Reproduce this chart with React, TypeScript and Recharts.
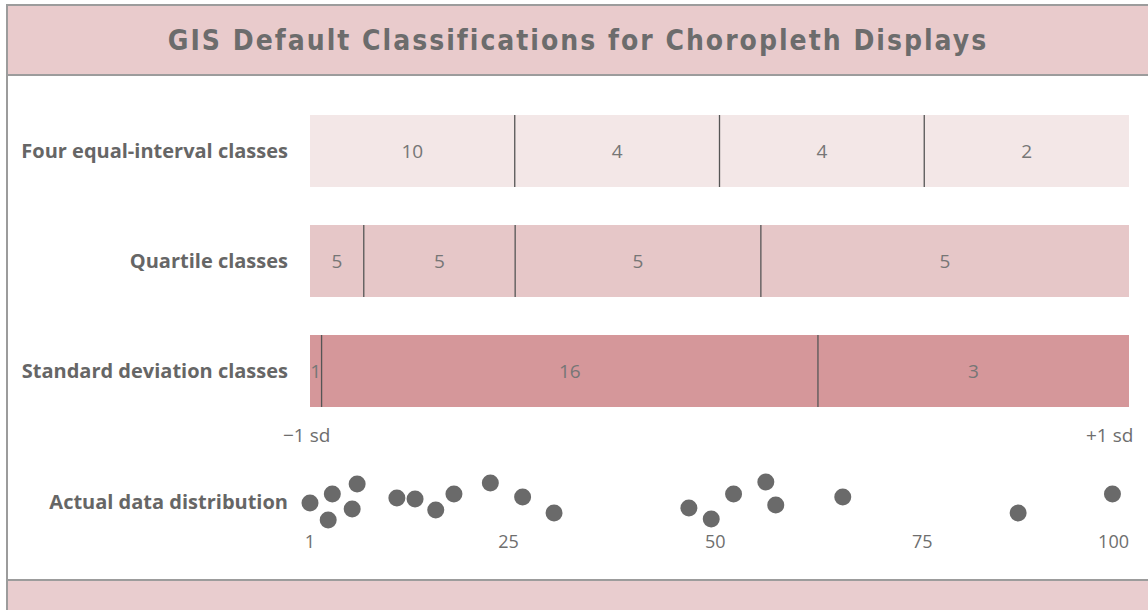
import {
  BarChart,
  Bar,
  XAxis,
  YAxis,
  LabelList,
  ScatterChart,
  Scatter
} from "recharts"

const rowLabels = [
  "Four equal-interval classes",
  "Quartile classes",
  "Standard deviation classes"
]

const dataMin = 1
const dataMax = 100

// upper bound of each class, and how many values fall into it
const equalBreaks = [25.75, 50.5, 75.25, 100]
const equalCounts = [10, 4, 4, 2]
const quartileBreaks = [7.5, 25.8, 55.5, 100]
const quartileCounts = [5, 5, 5, 5]
const sdBreaks = [2.4, 62.4, 100]
const sdCounts = [1, 16, 3]

const rowFills = ["#f3e7e7", "#e6c7c8", "#d5979a"]

// the 20 observations and a vertical jitter so they don't overlap
const dotValues = [
  1, 3.2, 3.7, 6.1, 6.7, 11.5, 13.7, 16.2, 18.4, 22.8,
  26.7, 30.5, 46.8, 49.5, 52.2, 56.1, 57.3, 65.4, 86.6, 98
]
const dotJitter = [
  27, 10, 36, 21, 46, 32, 31, 20, 36, 47,
  33, 17, 22, 11, 36, 48, 25, 33, 17, 36
]

const axisTicks = [1, 25, 50, 75, 100]

function rowEntry(label: string, breaks: number[], counts: number[]) {
  const entry: any = { row: label, base: dataMin }
  let prev = dataMin
  breaks.forEach((b, i) => {
    entry["s" + i] = b - prev
    entry["c" + i] = counts[i]
    prev = b
  })
  return entry
}

const barData = [
  rowEntry(rowLabels[0], equalBreaks, equalCounts),
  rowEntry(rowLabels[1], quartileBreaks, quartileCounts),
  rowEntry(rowLabels[2], sdBreaks, sdCounts)
]

const dotData = dotValues.map((v, i) => ({ v, j: dotJitter[i] }))

const labelFont = "'Open Sans', 'DejaVu Sans', sans-serif"

const Segment = (props: any) => {
  const { x, y, width, height, index, divider } = props
  if (!width || width <= 0) return null
  return (
    <g>
      <rect x={x} y={y} width={width} height={height} fill={rowFills[index]} />
      {divider && (
        <line x1={x} x2={x} y1={y} y2={y + height} stroke="#555" strokeWidth={1.3} />
      )}
    </g>
  )
}

const Dot = (props: any) => (
  <circle cx={props.cx} cy={props.cy} r={8.5} fill="#6a6a6a" />
)

const BottomTick = (props: any) => {
  const { x, y, payload } = props
  let anchor = "middle"
  if (payload.value === dataMax) anchor = "end"
  return (
    <text
      x={x}
      y={y}
      dy="0.71em"
      textAnchor={anchor}
      fill="#6e6e6e"
      fontSize={18}
      fontFamily={labelFont}
    >
      {payload.value}
    </text>
  )
}

const rowTick = {
  fill: "#666",
  fontSize: 20,
  fontWeight: 700,
  fontFamily: labelFont
}

const segmentKeys = ["s0", "s1", "s2", "s3"]

export default function App() {
  return (
    <div
      style={{
        position: "absolute",
        left: 0,
        top: 0,
        width: 1148,
        height: 610,
        background: "#fff",
        overflow: "hidden"
      }}
    >
      {/* frame + title band */}
      <div
        style={{
          position: "absolute",
          left: 6,
          top: 4,
          width: 1150,
          height: 68,
          background: "#e9cbcc",
          borderTop: "2px solid #9c9c9c",
          borderLeft: "2px solid #9c9c9c",
          borderBottom: "2px solid #9c9c9c",
          display: "flex",
          alignItems: "center",
          justifyContent: "center"
        }}
      >
        <span
          style={{
            fontFamily: "'DejaVu Sans Condensed', 'DejaVu Sans', sans-serif",
            fontStretch: "condensed",
            fontWeight: 700,
            fontSize: 28,
            letterSpacing: 2,
            color: "#6c6c6c",
            marginLeft: -10
          }}
        >
          GIS Default Classifications for Choropleth Displays
        </span>
      </div>
      <div
        style={{
          position: "absolute",
          left: 6,
          top: 74,
          width: 2,
          height: 506,
          background: "#9c9c9c"
        }}
      />
      <div
        style={{
          position: "absolute",
          left: 6,
          top: 579,
          width: 1150,
          height: 40,
          background: "#e9cdcf",
          borderTop: "2px solid #9c9c9c",
          borderLeft: "2px solid #9c9c9c"
        }}
      />

      <div style={{ position: "absolute", left: 0, top: 0 }}>
        <BarChart
          width={1148}
          height={430}
          data={barData}
          layout="vertical"
          margin={{ top: 96, right: 19, bottom: 4, left: 0 }}
        >
          <XAxis
            type="number"
            domain={[dataMin, dataMax]}
            allowDataOverflow
            hide
          />
          <YAxis
            type="category"
            dataKey="row"
            width={310}
            axisLine={false}
            tickLine={false}
            tickMargin={16}
            tick={rowTick}
          />
          <Bar
            dataKey="base"
            stackId="a"
            fill="transparent"
            barSize={72}
            isAnimationActive={false}
          />
          {segmentKeys.map((k, i) => (
            <Bar
              key={k}
              dataKey={k}
              stackId="a"
              barSize={72}
              isAnimationActive={false}
              shape={(p: any) => <Segment {...p} divider={i > 0} />}
            >
              <LabelList
                dataKey={"c" + i}
                position="center"
                fill="#767676"
                fontSize={19}
                fontFamily={labelFont}
              />
            </Bar>
          ))}
        </BarChart>
      </div>

      <div
        style={{
          position: "absolute",
          left: 283,
          top: 422,
          fontFamily: labelFont,
          fontSize: 19,
          color: "#6e6e6e"
        }}
      >
        −1 sd
      </div>
      <div
        style={{
          position: "absolute",
          left: 1086,
          top: 422,
          fontFamily: labelFont,
          fontSize: 19,
          color: "#6e6e6e"
        }}
      >
        +1 sd
      </div>

      <div style={{ position: "absolute", left: 0, top: 0 }}>
        <ScatterChart
          width={1148}
          height={580}
          margin={{ top: 470, right: 19, bottom: 20, left: 0 }}
        >
          <XAxis
            type="number"
            dataKey="v"
            domain={[dataMin, dataMax]}
            ticks={axisTicks}
            axisLine={false}
            tickLine={false}
            tickSize={0}
            tickMargin={5}
            tick={<BottomTick />}
          />
          <YAxis
            type="number"
            dataKey="j"
            domain={[0, 60]}
            ticks={[28]}
            width={310}
            axisLine={false}
            tickLine={false}
            tickMargin={16}
            tickFormatter={() => "Actual data distribution"}
            tick={rowTick}
          />
          <Scatter
            data={dotData}
            shape={<Dot />}
            isAnimationActive={false}
          />
        </ScatterChart>
      </div>
    </div>
  )
}
